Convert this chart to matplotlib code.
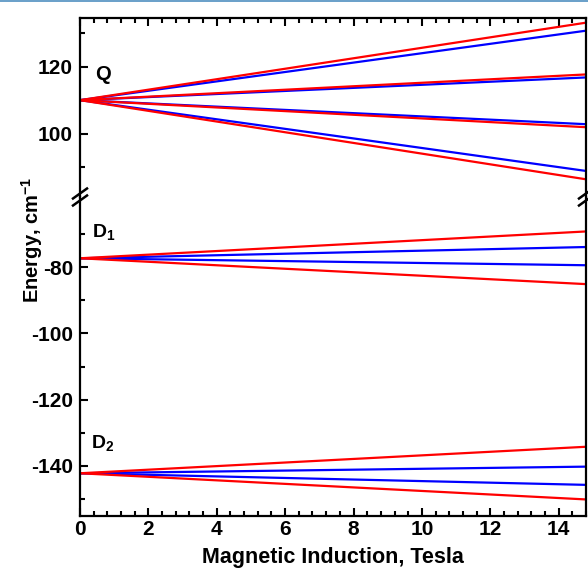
import matplotlib
matplotlib.use("Agg")
import matplotlib.pyplot as plt
from matplotlib.lines import Line2D
from matplotlib.ticker import FixedLocator, MultipleLocator

plt.rcParams['font.family'] = ['Liberation Sans', 'DejaVu Sans']
plt.rcParams['font.weight'] = 'bold'
plt.rcParams['axes.unicode_minus'] = False
plt.rcParams['mathtext.fontset'] = 'custom'
plt.rcParams['mathtext.rm'] = 'Liberation Sans:bold'
plt.rcParams['mathtext.bf'] = 'Liberation Sans:bold'
plt.rcParams['mathtext.default'] = 'bf'

# field values (Tesla) at the two ends of each level
field = [0, 14.8]

# Q manifold
q_red = [[110, 133.2], [110, 117.7], [110, 101.9], [110, 86.3]]
q_blue = [[110, 130.8], [110, 116.8], [110, 102.8], [110, 88.8]]
# D1 level
d1_red = [[-77.3, -69.2], [-77.3, -85.1]]
d1_blue = [[-77.3, -73.9], [-77.3, -79.4]]
# D2 level
d2_red = [[-142.2, -134.2], [-142.2, -150.1]]
d2_blue = [[-142.2, -140.2], [-142.2, -145.7]]

top_ticks = [100, 120]
top_minor = [90, 110, 130]
bot_ticks = [-140, -120, -100, -80]
bot_minor = [-150, -130, -110, -90, -70]

W, H = 588, 569
fig = plt.figure(figsize=(W / 100, H / 100), dpi=100)

left, right = 80 / W, 586 / W
top, bottom = 1 - 18 / H, 1 - 516 / H
brk = 1 - 197 / H

ax_top = fig.add_axes([left, brk, right - left, top - brk])
ax_bot = fig.add_axes([left, bottom, right - left, brk - bottom])

lw = 1.6
for ax, reds, blues in [(ax_top, q_red, q_blue),
                        (ax_bot, d1_red + d2_red, d1_blue + d2_blue)]:
    for y in blues:
        ax.plot(field, y, color='blue', lw=lw)
    for y in reds:
        ax.plot(field, y, color='red', lw=lw)
    ax.set_xlim(0, 14.8)
    for s in ax.spines.values():
        s.set_linewidth(1.6)
    ax.xaxis.set_major_locator(MultipleLocator(2))
    ax.xaxis.set_minor_locator(MultipleLocator(0.4))
    ax.tick_params(which='both', direction='in', width=1.5, right=False)
    ax.tick_params(which='major', length=6)
    ax.tick_params(which='minor', length=3.3)
    ax.tick_params(axis='y', labelsize=15, pad=5)
    ax.tick_params(axis='x', labelsize=15, pad=3)

ax_top.yaxis.set_major_locator(FixedLocator(top_ticks))
ax_top.yaxis.set_minor_locator(FixedLocator(top_minor))
ax_bot.yaxis.set_major_locator(FixedLocator(bot_ticks))
ax_bot.yaxis.set_minor_locator(FixedLocator(bot_minor))

ax_top.set_ylim(81, 134.6)
ax_bot.set_ylim(-155.1, -58.8)

ax_top.spines['bottom'].set_visible(False)
ax_bot.spines['top'].set_visible(False)
ax_top.tick_params(which='both', axis='x', bottom=False, top=True, labelbottom=False)
ax_bot.tick_params(which='both', axis='x', top=False, bottom=True)

ax_top.text(0.45, 117.6, 'Q', fontsize=14.5, fontweight='bold', ha='left', va='center')
ax_bot.text(0.36, -71.0, r'D$_{1}$', fontsize=14, ha='left', va='baseline')
ax_bot.text(0.33, -134.6, r'D$_{2}$', fontsize=14, ha='left', va='baseline')

ax_bot.set_xlabel('Magnetic Induction, Tesla', fontsize=15.5, fontweight='bold', labelpad=6)
fig.text(32 / W, 1 - 240 / H, r'Energy, cm$^{-1}$', rotation=90, fontsize=14.5,
         fontweight='bold', ha='center', va='center')

# axis break marks
yb = H - 197
for x0 in (80, 586):
    for dy in (-3.5, 3.5):
        fig.add_artist(Line2D([(x0 - 7) / W, (x0 + 7) / W],
                              [(yb + dy - 5) / H, (yb + dy + 5) / H],
                              color='black', lw=1.8, clip_on=False))

# page border line at top
fig.add_artist(Line2D([0, 1], [1 - 1 / H, 1 - 1 / H], color='#4f8fc0', lw=1.2))

fig.savefig('out.png', dpi=100)
